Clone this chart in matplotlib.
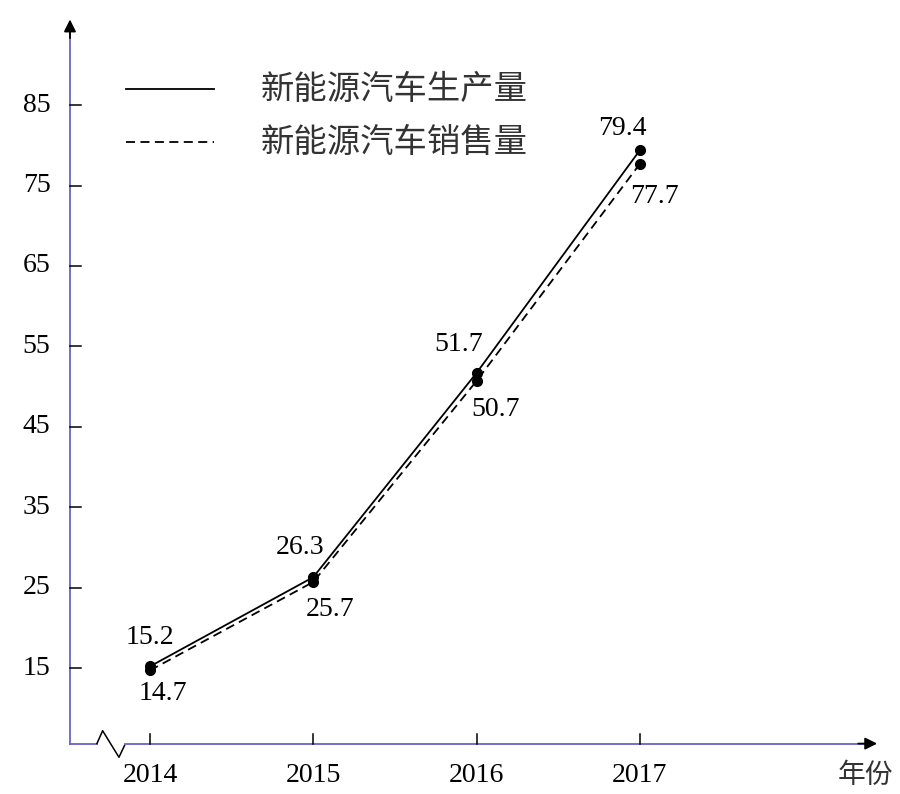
import matplotlib.pyplot as plt
import numpy as np

years = [2014, 2015, 2016, 2017]
production = [15.2, 26.3, 51.7, 79.4]
sales = [14.7, 25.7, 50.7, 77.7]
yticks = [15, 25, 35, 45, 55, 65, 75, 85]
legend_labels = ['新能源汽车生产量', '新能源汽车销售量']

num_font = 'Liberation Serif'
cjk_font = ['Noto Sans CJK SC', 'DejaVu Sans']
axis_color = '#6b63c8'
num_size = 20

fig = plt.figure(figsize=(9, 7.94), dpi=100)
ax = fig.add_axes([0, 0, 1, 1])
ax.set_xlim(2013.0815, 2018.593)
ax.set_ylim(-0.67, 98.08)
ax.axis('off')

x0, y0 = 2013.51, 5.6
xend, yend = 2018.47, 96.0

# axes with arrows
ax.plot([x0, x0], [y0, yend - 1.5], color=axis_color, lw=1.3)
ax.annotate('', xy=(x0, yend), xytext=(x0, yend - 3),
            arrowprops=dict(arrowstyle='-|>', color='black', lw=1.3, mutation_scale=18))
brk = [x0 + 0.165, x0 + 0.2, x0 + 0.3, x0 + 0.335]
ax.plot([x0, brk[0]], [y0, y0], color=axis_color, lw=1.3)
ax.plot(brk, [y0, y0 + 1.6, y0 - 1.7, y0 - 0.2], color='black', lw=1.1)
ax.plot([brk[3], xend - 0.08], [y0, y0], color=axis_color, lw=1.3)
ax.annotate('', xy=(xend, y0), xytext=(xend - 0.15, y0),
            arrowprops=dict(arrowstyle='-|>', color='black', lw=1.3, mutation_scale=18))

# y ticks
for t in yticks:
    ax.plot([x0, x0 + 0.065], [t, t], color='black', lw=1.1)
    ax.text(x0 - 0.12, t, str(t), ha='right', va='center', fontsize=num_size, family=num_font)

# x ticks
for yr in years:
    ax.plot([yr, yr], [y0, y0 + 1.2], color='black', lw=1.1)
    ax.text(yr, y0 - 4.0, str(yr), ha='center', va='center', fontsize=num_size, family=num_font)
ax.text(2018.38, y0 - 3.9, '年份', ha='center', va='center', fontsize=20, family=cjk_font,
        color='#333333')

# lines
ax.plot(years, production, color='black', lw=1.3, marker='o', markersize=7)
ax.plot(years, sales, color='black', lw=1.3, ls=(0, (5, 3)), marker='o', markersize=7)

prod_off = [(0, 29), (-13, 30), (-18, 28), (-17, 22)]
sales_off = [(13, -23), (17, -28), (19, -29), (15, -33)]
for yr, v, o in zip(years, production, prod_off):
    ax.annotate(f'{v}', (yr, v), xytext=o, textcoords='offset pixels', ha='center',
                va='center', fontsize=num_size, family=num_font)
for yr, v, o in zip(years, sales, sales_off):
    ax.annotate(f'{v}', (yr, v), xytext=o, textcoords='offset pixels', ha='center',
                va='center', fontsize=num_size, family=num_font)

# legend
lx = [2013.855, 2014.395]
ax.plot(lx, [87.0, 87.0], color='black', lw=1.3)
ax.plot(lx, [80.4, 80.4], color='black', lw=1.3, ls=(0, (5, 3)))
ax.text(2014.68, 87.0, legend_labels[0], ha='left', va='center', fontsize=24,
        family=cjk_font, color='#333333')
ax.text(2014.68, 80.4, legend_labels[1], ha='left', va='center', fontsize=24,
        family=cjk_font, color='#333333')

fig.savefig('out.png', dpi=100)
